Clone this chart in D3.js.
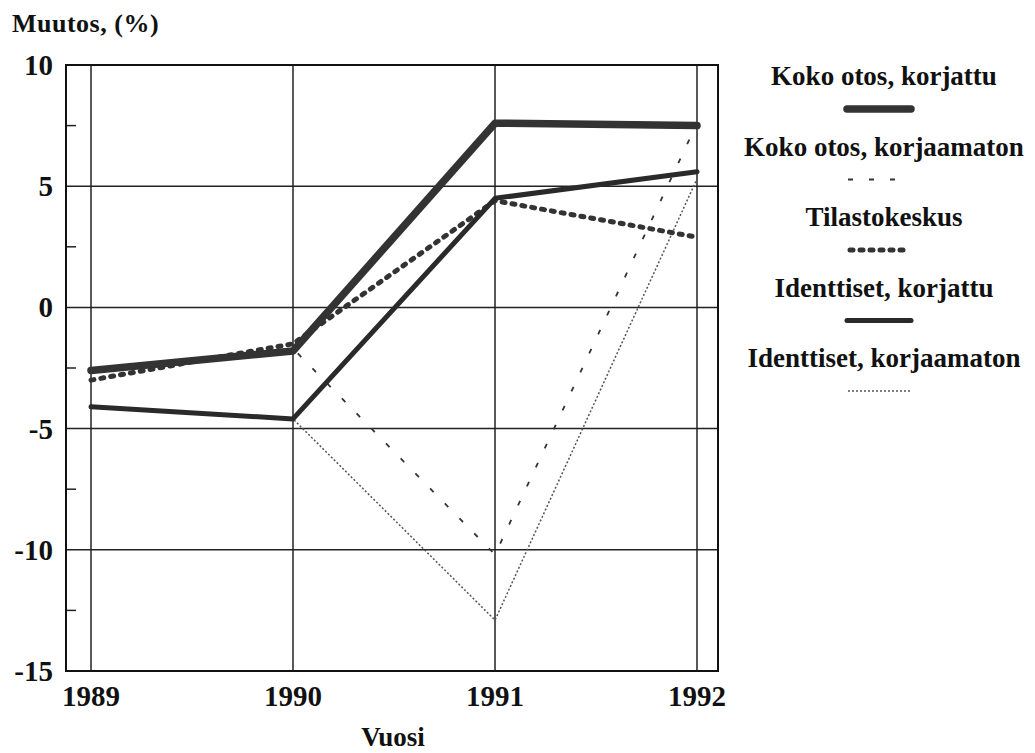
<!DOCTYPE html>
<html>
<head>
<meta charset="utf-8">
<title>Muutos</title>
<script src="https://d3js.org/d3.v7.min.js"></script>
<style>
body { margin: 0; background: #fff; }
text { font-family: "Liberation Serif", "DejaVu Serif", serif; font-weight: bold; fill: #111; }
</style>
</head>
<body>
<div id="chart"></div>
<script type="text/javascript">

var years = [1989, 1990, 1991, 1992];
var yTicks = [10, 5, 0, -5, -10, -15];
var minorTicks = [7.5, 2.5, -2.5, -7.5, -12.5];

var kokoKorjattu = [-2.6, -1.8, 7.6, 7.5];
var kokoKorjaamaton = [-2.6, -1.7, -10.2, 7.6];
var tilastokeskus = [-3.0, -1.5, 4.4, 2.9];
var identKorjattu = [-4.1, -4.6, 4.5, 5.6];
var identKorjaamaton = [-4.1, -4.6, -12.9, 5.3];

var seriesNames = ["Koko otos, korjattu", "Koko otos, korjaamaton", "Tilastokeskus",
	"Identtiset, korjattu", "Identtiset, korjaamaton"];

var width = 1035, height = 753;
var svg = d3.select("#chart").append("svg").attr("width", width).attr("height", height);

var plotLeft = 66, plotRight = 718, plotTop = 65, plotBottom = 671;

var x = d3.scaleLinear().domain([1989, 1992]).range([91, 697]);
var y = d3.scaleLinear().domain([-15, 10]).range([plotBottom, plotTop]);

// grid
svg.selectAll(".hgrid").data(yTicks).enter().append("line")
	.attr("x1", plotLeft).attr("x2", plotRight)
	.attr("y1", function(d){ return y(d); }).attr("y2", function(d){ return y(d); })
	.attr("stroke", "#222").attr("stroke-width", 1.5);
svg.selectAll(".vgrid").data(years).enter().append("line")
	.attr("x1", function(d){ return x(d); }).attr("x2", function(d){ return x(d); })
	.attr("y1", plotTop).attr("y2", plotBottom)
	.attr("stroke", "#222").attr("stroke-width", 1.5);
svg.selectAll(".minor").data(minorTicks).enter().append("line")
	.attr("x1", plotLeft).attr("x2", plotLeft + 10)
	.attr("y1", function(d){ return y(d); }).attr("y2", function(d){ return y(d); })
	.attr("stroke", "#222").attr("stroke-width", 1.5);
svg.append("rect").attr("x", plotLeft).attr("y", plotTop)
	.attr("width", plotRight - plotLeft).attr("height", plotBottom - plotTop)
	.attr("fill", "none").attr("stroke", "#111").attr("stroke-width", 2);

// axis labels
svg.selectAll(".ylab").data(yTicks).enter().append("text")
	.attr("x", 53).attr("y", function(d){ return y(d) + 10; })
	.attr("text-anchor", "end").style("font-size", "29px")
	.text(function(d){ return d; });
svg.selectAll(".xlab").data(years).enter().append("text")
	.attr("x", function(d){ return x(d); }).attr("y", 706)
	.attr("text-anchor", "middle").style("font-size", "29px")
	.text(function(d){ return d; });
svg.append("text").attr("x", 393).attr("y", 746).attr("text-anchor", "middle")
	.style("font-size", "27px").text("Vuosi");
svg.append("text").attr("x", 12).attr("y", 32).style("font-size", "26px")
	.style("letter-spacing", "0.5px").text("Muutos, (%)");

// series
var styles = [
	{ data: kokoKorjaamaton, width: 1.8, dash: "5,16", cap: "butt", color: "#333" },
	{ data: identKorjaamaton, width: 1.5, dash: "2,2", cap: "butt", color: "#555" },
	{ data: tilastokeskus, width: 5, dash: "3,7", cap: "round", color: "#333" },
	{ data: identKorjattu, width: 5, dash: null, cap: "round", color: "#2a2a2a" },
	{ data: kokoKorjattu, width: 7.5, dash: null, cap: "round", color: "#333" }
];

var line = d3.line().x(function(d, i){ return x(years[i]); }).y(function(d){ return y(d); });

styles.forEach(function(s){
	svg.append("path").attr("d", line(s.data)).attr("fill", "none")
		.attr("stroke", s.color).attr("stroke-width", s.width)
		.attr("stroke-dasharray", s.dash).attr("stroke-linecap", s.cap)
		.attr("stroke-linejoin", "round");
});

// legend
var legendX = 884;
var legendStyles = [
	{ width: 7.5, dash: null, cap: "round", color: "#333", x1: 847, x2: 911 },
	{ width: 1.8, dash: "5,16", cap: "butt", color: "#333", x1: 848, x2: 900 },
	{ width: 5, dash: "3,7", cap: "round", color: "#333", x1: 850, x2: 908 },
	{ width: 5, dash: null, cap: "round", color: "#2a2a2a", x1: 847, x2: 911 },
	{ width: 1.5, dash: "2,2", cap: "butt", color: "#555", x1: 848, x2: 912 }
];
seriesNames.forEach(function(name, i){
	var ty = 85 + i * 70.5;
	svg.append("text").attr("x", legendX).attr("y", ty).attr("text-anchor", "middle")
		.style("font-size", "27px").text(name);
	var s = legendStyles[i];
	svg.append("line").attr("x1", s.x1).attr("x2", s.x2)
		.attr("y1", ty + 24).attr("y2", ty + 24)
		.attr("stroke", s.color).attr("stroke-width", s.width)
		.attr("stroke-dasharray", s.dash).attr("stroke-linecap", s.cap);
});

</script>
</body>
</html>
